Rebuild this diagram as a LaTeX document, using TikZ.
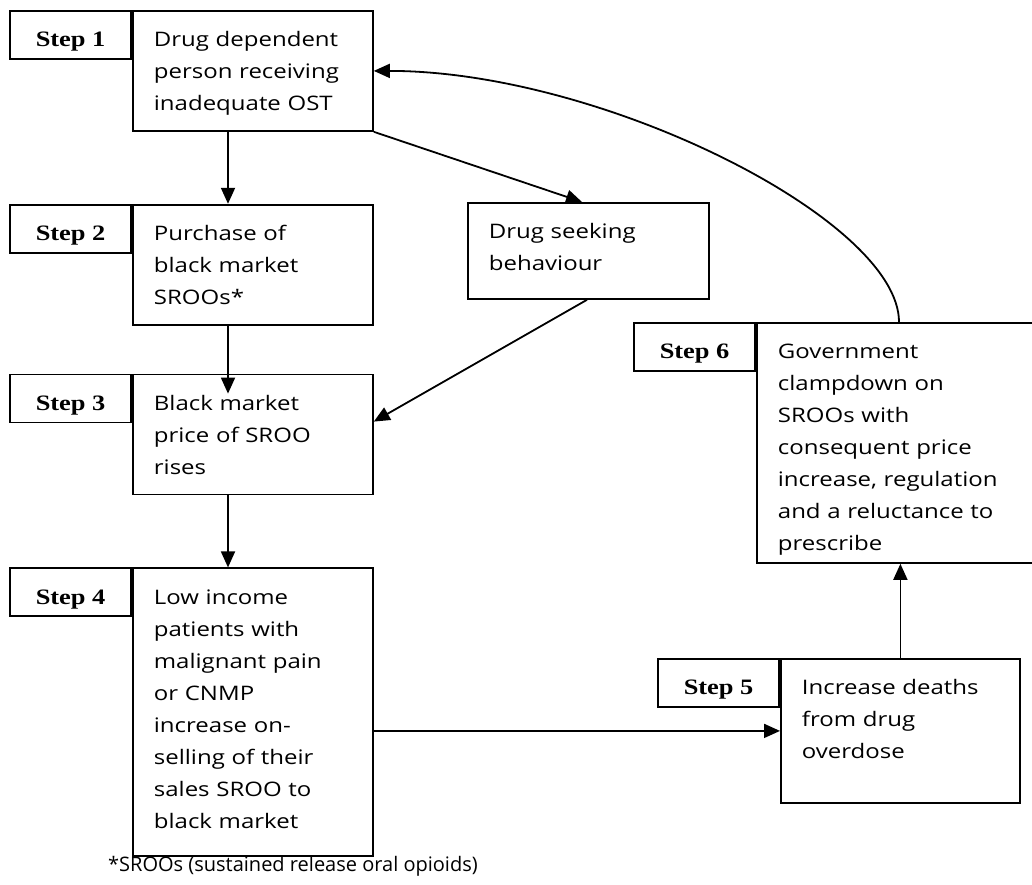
\documentclass[tikz,border=0pt]{standalone}
\usepackage{fontspec}
\setmainfont{Open Sans}[FakeStretch=1.2]
\newfontfamily\notefont{Open Sans}
\newfontfamily\labfont{Liberation Serif}[FakeStretch=1.2]
\usetikzlibrary{arrows.meta,positioning}

\newcommand{\mainsize}{\fontsize{20}{32}\selectfont}
\newcommand{\labsize}{\labfont\bfseries\fontsize{22}{24}\selectfont}

\begin{document}
\begin{tikzpicture}[
  x=1pt, y=-1pt,
  box/.style={rectangle,draw,line width=1.8pt,inner xsep=21pt,inner ysep=0pt,
    align=left,anchor=north west,text height=36pt,font=\mainsize},
  lab/.style={rectangle,draw,line width=1.8pt,inner sep=0pt,minimum width=121pt,
    text height=36pt,text depth=12pt,anchor=north east,font=\labsize},
  arrow/.style={-{Triangle[length=16pt,width=14pt]},line width=1.8pt}
]
\clip (0,0) rectangle (1032,884);

% left column
\node[box,text width=198pt,text depth=84pt] (s1) at (132,10)
  {Drug dependent\\person receiving\\inadequate OST};
\node[box,text width=198pt,text depth=84pt,below=72pt of s1] (s2)
  {Purchase of\\black market\\SROOs*};
\node[box,text width=198pt,text depth=84pt,below=48pt of s2] (s3)
  {Black market\\price of SROO\\rises};
\node[box,text width=198pt,text depth=252pt,below=72pt of s3] (s4)
  {Low income\\patients with\\malignant pain\\or CNMP\\increase on-\\selling of their\\sales SROO to\\black market};

% middle and right
\node[box,text width=199pt,text depth=60pt] (seek) at (467,202)
  {Drug seeking\\behaviour};
\node[box,text width=248pt,text depth=204pt] (s6) at (756,322)
  {Government\\clampdown on\\SROOs with\\consequent price\\increase, regulation\\and a reluctance to\\prescribe};
\node[box,text width=197pt,text depth=108pt] (s5) at (780,658)
  {Increase deaths\\from drug\\overdose};

% step tabs
\node[lab] (l1) at (s1.north west) {Step 1};
\node[lab] (l2) at (s2.north west) {Step 2};
\node[lab] (l3) at (s3.north west) {Step 3};
\node[lab] (l4) at (s4.north west) {Step 4};
\node[lab] (l5) at (s5.north west) {Step 5};
\node[lab] (l6) at (s6.north west) {Step 6};

\node[anchor=base west,inner sep=0pt,font=\notefont\fontsize{20}{24}\selectfont] (note) at (108,871)
  {*SROOs (sustained release oral opioids)};

\draw[arrow] ([xshift=96pt]s1.south west) -- ([xshift=96pt]s2.north west);
\draw[arrow] ([xshift=96pt]s2.south west) -- ([xshift=96pt,yshift=-20pt]s3.north west);
\draw[arrow] ([xshift=96pt]s3.south west) -- ([xshift=96pt]s4.north west);
\draw[arrow] (s1.south east) -- ([xshift=115pt]seek.north west);
\draw[arrow] ([xshift=120pt]seek.south west) -- ([yshift=-48pt]s3.north east);
\draw[arrow] (s4.east |- s5.west) -- (s5.west);
\draw[arrow] (s5.north) -- (s5.north |- s6.south);

% feedback to step 1
\draw[arrow] ([xshift=143pt]s6.north west) .. controls +(0,-102) and +(228,0) .. (s1.east);
\end{tikzpicture}
\end{document}
